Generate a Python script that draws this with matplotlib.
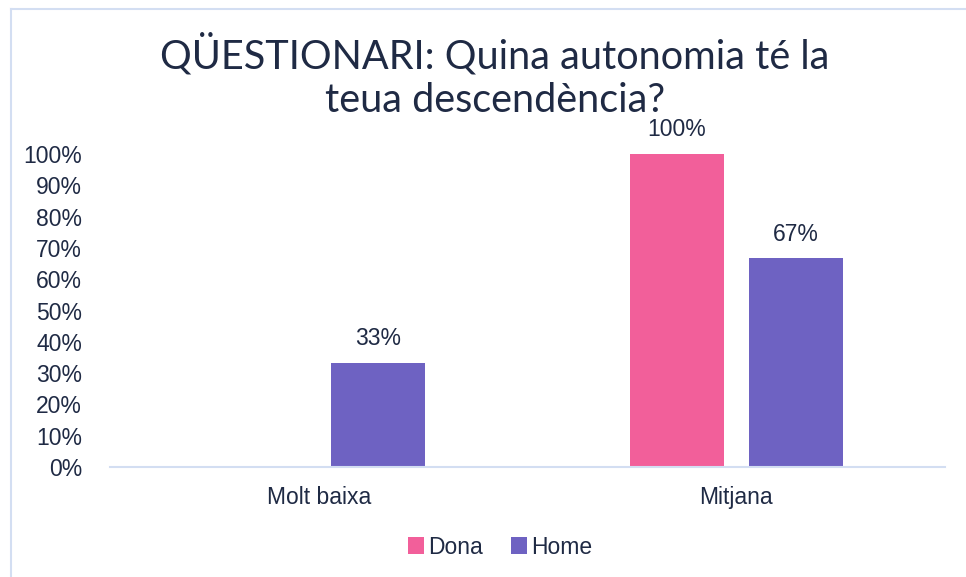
import matplotlib.pyplot as plt
from matplotlib.lines import Line2D
import numpy as np

# data
categories = ['Molt baixa', 'Mitjana']
dona = [0.0, 1.0]
home = [0.3333, 0.6667]
dona_labels = ['', '100%']
home_labels = ['33%', '67%']
yticks = np.arange(0, 1.01, 0.1)

text_col = '#1F2A44'
pink = '#F25F9A'
purple = '#6E62C2'
frame_col = '#D3DEF2'

plt.rcParams['font.family'] = ['Liberation Sans', 'DejaVu Sans']

fig = plt.figure(figsize=(9.66, 5.77), dpi=100)
ax = fig.add_axes([110 / 966, 110 / 577, 835 / 966, 313 / 577])

x = np.arange(len(categories))
w = 0.225
off = 0.143
b1 = ax.bar(x - off, dona, w, color=pink, label='Dona')
b2 = ax.bar(x + off, home, w, color=purple, label='Home')

for bars, labs in [(b1, dona_labels), (b2, home_labels)]:
    for bar, lab in zip(bars, labs):
        if lab:
            ax.annotate(lab, (bar.get_x() + bar.get_width() / 2, bar.get_height()),
                        xytext=(0, 9), textcoords='offset points',
                        ha='center', va='bottom', fontsize=16.5, color=text_col)

ax.set_xlim(-0.5, 1.5)
ax.set_ylim(0, 1.0)
ax.set_yticks(yticks)
ax.set_yticklabels([f'{int(round(t * 100))}%' for t in yticks])
ax.set_xticks(x)
ax.set_xticklabels(categories)
ax.tick_params(axis='both', length=0, labelsize=16.5, labelcolor=text_col)
ax.tick_params(axis='y', pad=20)
ax.tick_params(axis='x', pad=14)
for s in ['top', 'right', 'left']:
    ax.spines[s].set_visible(False)
ax.spines['bottom'].set_color(frame_col)
ax.spines['bottom'].set_linewidth(1.5)

fig.text(495 / 966, 1 - 76 / 577, 'QÜESTIONARI: Quina autonomia té la\nteua descendència?',
         ha='center', va='center', fontsize=28.5, color=text_col,
         family=['Lato', 'DejaVu Sans'], linespacing=1.25)

fig.legend(handles=[b1, b2], labels=['Dona', 'Home'], loc='center',
           bbox_to_anchor=(500 / 966, 1 - 547 / 577), ncol=2, frameon=False,
           fontsize=16.5, handlelength=0.7, handleheight=0.7, handletextpad=0.2,
           columnspacing=1.2, labelcolor=text_col)

# chart frame: only top and left visible
fig.add_artist(Line2D([11 / 966, 1], [1 - 9 / 577, 1 - 9 / 577], color=frame_col, lw=1.5))
fig.add_artist(Line2D([11 / 966, 11 / 966], [0, 1 - 9 / 577], color=frame_col, lw=1.5))

fig.savefig('out.png', dpi=100)
